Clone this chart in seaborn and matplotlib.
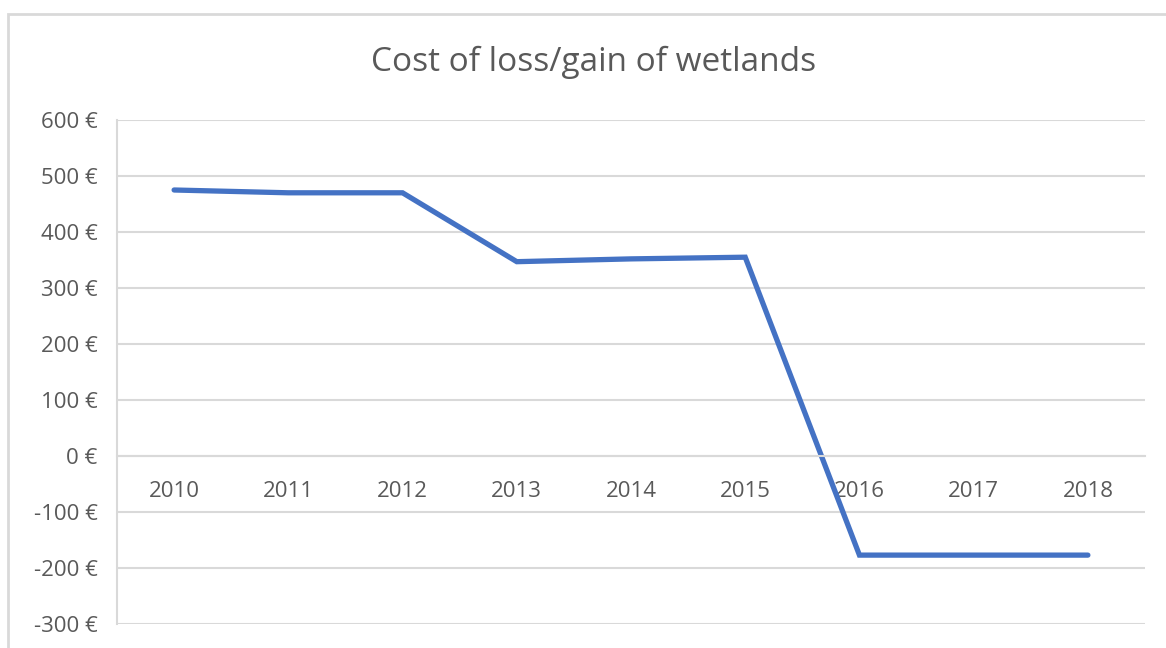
import matplotlib
matplotlib.use("Agg")
import matplotlib.pyplot as plt
import seaborn as sns
import pandas as pd
from matplotlib.patches import Rectangle

# Values
years = [2010, 2011, 2012, 2013, 2014, 2015, 2016, 2017, 2018]
cost = [475, 470, 470, 347, 352, 355, -177, -177, -177]
y_ticks = [-300, -200, -100, 0, 100, 200, 300, 400, 500, 600]
y_labels = [f"{v} €" for v in y_ticks]

sns.set_style("white")
plt.rcParams['font.family'] = ['Open Sans', 'DejaVu Sans']

grid_col = '#D9D9D9'
text_col = '#595959'
line_col = '#4472C4'

df = pd.DataFrame({'Year': years, 'Cost': cost})

fig = plt.figure(figsize=(11.66, 6.48), dpi=100)
fig.patch.set_facecolor('white')

# light chart-area border (Excel style)
fig.patches.append(Rectangle((8 / 1166, -0.1), 1.2, (648 - 14) / 648 + 0.1,
                             transform=fig.transFigure, fill=False,
                             edgecolor=grid_col, linewidth=2))

ax = fig.add_axes([117 / 1166, 24 / 648, (1145 - 117) / 1166, (624 - 120) / 648])

sns.lineplot(data=df, x='Year', y='Cost', ax=ax, color=line_col, linewidth=3.8,
             solid_joinstyle='miter')

ax.set_xlim(2009.5, 2018.5)
ax.set_ylim(-300, 600)
ax.set_yticks(y_ticks)
ax.set_yticklabels(y_labels)
ax.set_xticks(years)
ax.set_xticklabels([str(y) for y in years])

ax.yaxis.grid(True, color=grid_col, linewidth=1.5)
ax.set_axisbelow(True)
for s in ['top', 'right']:
    ax.spines[s].set_visible(False)
ax.spines['left'].set_color(grid_col)
ax.spines['left'].set_linewidth(1.5)
ax.spines['bottom'].set_position(('data', 0))
ax.spines['bottom'].set_color(grid_col)
ax.spines['bottom'].set_linewidth(1.5)

ax.tick_params(axis='x', length=0, pad=18, labelsize=16, colors=text_col)
ax.tick_params(axis='y', length=0, pad=14, labelsize=16, colors=text_col)
ax.set_xlabel('')
ax.set_ylabel('')

fig.text(594 / 1166, 1 - 62 / 648, 'Cost of loss/gain of wetlands', ha='center', va='center',
         fontsize=24, color=text_col)

fig.savefig('out.png', dpi=100, facecolor='white')
